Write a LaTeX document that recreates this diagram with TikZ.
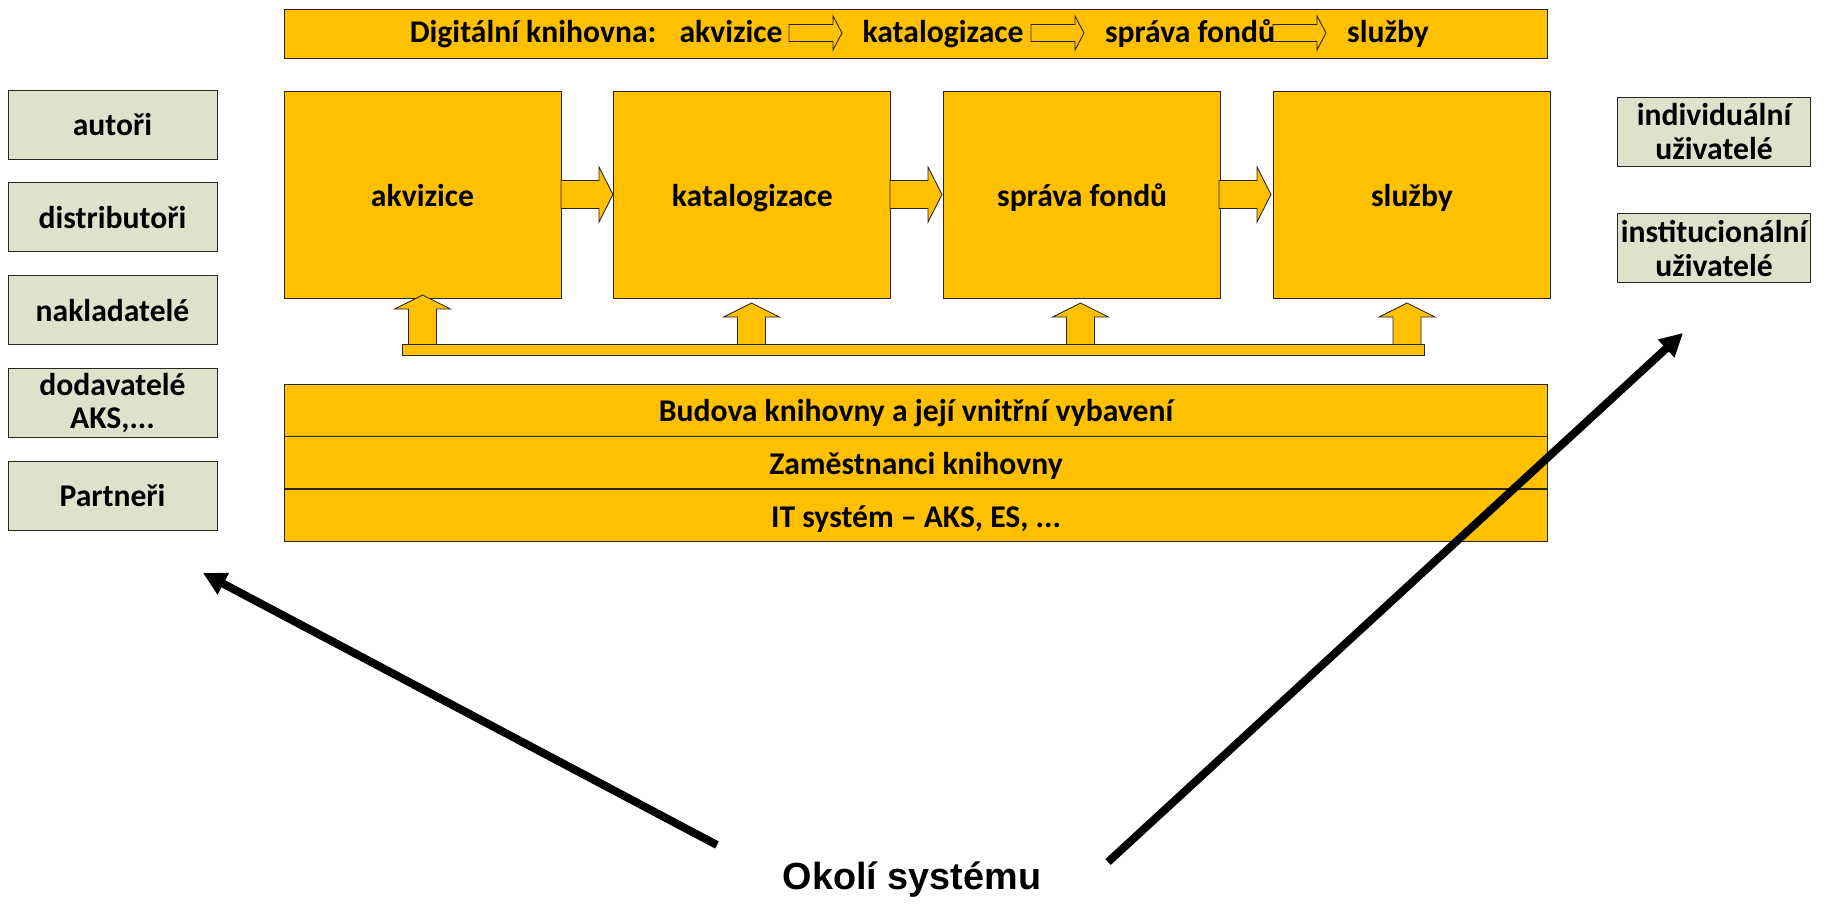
\documentclass[tikz,border=0pt]{standalone}
\usepackage{fontspec}
\setmainfont{Carlito}
\newfontfamily\arialfont{Liberation Sans}
\usetikzlibrary{positioning,arrows.meta}
\definecolor{libyellow}{HTML}{FFC000}
\definecolor{libgreen}{RGB}{221,226,203}

\begin{document}
\begin{tikzpicture}[x=0.02cm, y=-0.02cm,
  box/.style={draw=black!85, line width=0.5pt, fill=libyellow, inner sep=0pt,
    font=\fontsize{18}{19}\selectfont\bfseries, align=center},
  stage/.style={box, minimum width=5.54cm, minimum height=4.14cm, text height=13.5pt, text depth=0pt},
  layer/.style={box, minimum width=25.28cm, minimum height=1.04cm, text height=13.5pt, text depth=0pt},
  actor/.style={box, fill=libgreen, minimum width=4.18cm, minimum height=1.38cm},
  barlabel/.style={inner sep=0pt, anchor=base, font=\fontsize{18}{19}\selectfont\bfseries},
  blockarrow/.style={draw=black!85, line width=0.5pt, fill=libyellow, line join=miter},
  env/.style={line width=0.16cm, -{Triangle[length=0.46cm, width=0.46cm]}}]

\useasboundingbox (0,0) rectangle (1831,914);

% top bar
\node [box, minimum width=25.28cm, minimum height=0.98cm] (digital) at (916,33.5) {};
\node [barlabel] (dlabel) at (533,42) {Digitální knihovna:};
\node [barlabel] (dakv) at (731,42) {akvizice};
\node [barlabel] (dkat) at (943,42) {katalogizace};
\node [barlabel] (dsprava) at (1190,42) {správa fondů};
\node [barlabel] (dsluzby) at (1388,42) {služby};
\foreach \x in {789,1031,1273}
	\draw [blockarrow] (\x,24.5) -- (\x+44,24.5) -- (\x+44,16) -- (\x+53,33) --
		(\x+44,50) -- (\x+44,41.5) -- (\x,41.5) -- cycle;

% main stages
\node [stage] (akv) at (422.5,194.5) {akvizice};
\node [stage, right=1.04cm of akv] (kat) {katalogizace};
\node [stage, right=1.04cm of kat] (sprava) {správa fondů};
\node [stage, right=1.04cm of sprava] (sluzby) {služby};
\foreach \x in {561,890,1219}
	\draw [blockarrow] (\x,180.5) -- (\x+38,180.5) -- (\x+38,167) -- (\x+52,194.5) --
		(\x+38,222) -- (\x+38,208.5) -- (\x,208.5) -- cycle;

% support arrows and bar
\foreach \x/\t in {422.5/295, 751.5/303, 1080.5/303, 1407/303}
	\draw [blockarrow] (\x-14,346) -- (\x-14,\t+14) -- (\x-28,\t+14) -- (\x,\t) --
		(\x+28,\t+14) -- (\x+14,\t+14) -- (\x+14,346) -- cycle;
\draw [blockarrow] (402,344) rectangle (1424,355);

% layers
\node [layer] (building) at (916,410) {Budova knihovny a její vnitřní vybavení};
\node [layer, below=0cm of building] (staff) {Zaměstnanci knihovny};
\node [layer, below=0cm of staff] (itsys) {IT systém – AKS, ES, ...};

% suppliers
\node [actor] (authors) at (112.5,124.5) {autoři};
\node [actor, below=0.46cm of authors] (distrib) {distributoři};
\node [actor, below=0.46cm of distrib] (publish) {nakladatelé};
\node [actor, below=0.46cm of publish] (vendors) {dodavatelé\\AKS,...};
\node [actor, below=0.46cm of vendors] (partners) {Partneři};

% users
\node [actor, minimum width=3.86cm] (indiv) at (1714,131.5) {individuální\\uživatelé};
\node [actor, minimum width=3.86cm, below=0.94cm of indiv] (instit) {institucionální\\uživatelé};

% environment
\node [inner sep=0pt, anchor=base, font=\arialfont\bfseries\fontsize{21.5}{24}\selectfont] (okoli) at (912,889) {Okolí systému};
\coordinate (supplystart) at (717,845);
\coordinate (supplyend) at (203,573);
\coordinate (userstart) at (1108,862);
\coordinate (userend) at (1683,333);
\draw [env] (supplystart) -- (supplyend);
\draw [env] (userstart) -- (userend);

\end{tikzpicture}
\end{document}
